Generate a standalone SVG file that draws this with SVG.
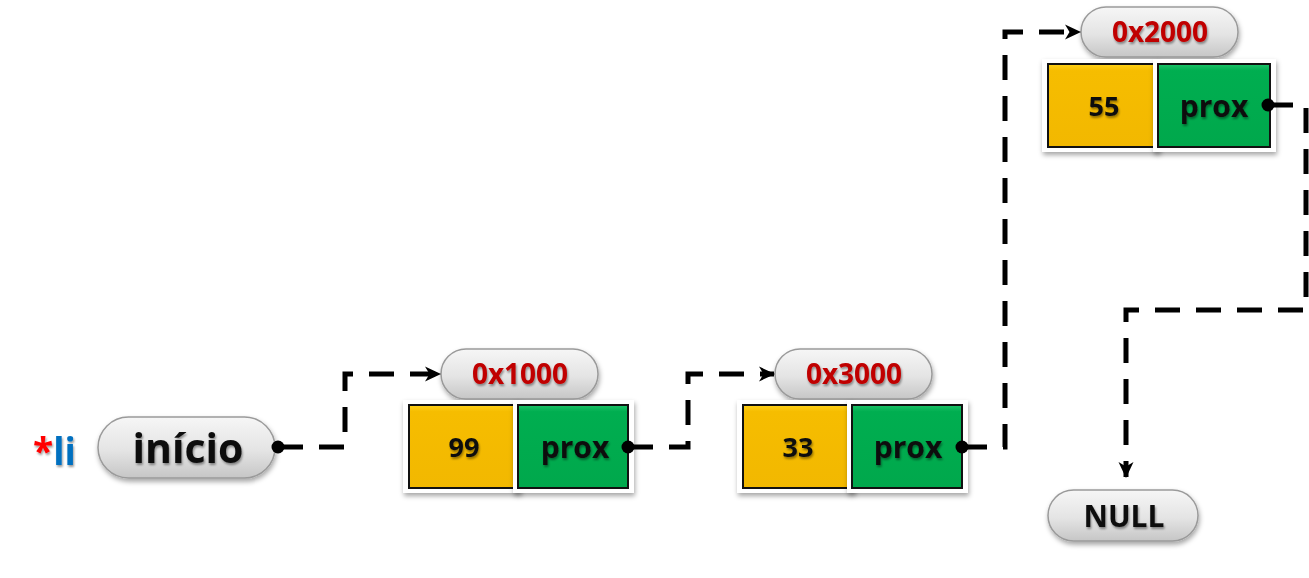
<svg xmlns="http://www.w3.org/2000/svg" width="1309" height="578" viewBox="0 0 1309 578">
<defs>
<linearGradient id="pillG" x1="0" y1="0" x2="0" y2="1">
<stop offset="0" stop-color="#f6f6f6"/><stop offset="0.55" stop-color="#e4e4e4"/><stop offset="1" stop-color="#c6c6c6"/>
</linearGradient>
<linearGradient id="yelG" x1="0" y1="0" x2="0" y2="1">
<stop offset="0" stop-color="#ffd21a"/><stop offset="0.08" stop-color="#f6bd00"/><stop offset="1" stop-color="#f2b800"/>
</linearGradient>
<linearGradient id="grnG" x1="0" y1="0" x2="0" y2="1">
<stop offset="0" stop-color="#1ec46a"/><stop offset="0.08" stop-color="#00ae50"/><stop offset="1" stop-color="#00a84c"/>
</linearGradient>
<filter id="sh" x="-20%" y="-20%" width="140%" height="150%">
<feDropShadow dx="1" dy="3" stdDeviation="2.5" flood-color="#000" flood-opacity="0.35"/>
</filter>
<filter id="tsh" x="-20%" y="-20%" width="140%" height="150%">
<feDropShadow dx="1" dy="2" stdDeviation="1.2" flood-color="#000" flood-opacity="0.4"/>
</filter>
<marker id="arr" markerUnits="userSpaceOnUse" markerWidth="18" markerHeight="18" viewBox="0 0 18 18" refX="16" refY="9" orient="auto">
<path d="M1,1.5 L17,9 L1,16.5 L5.5,9 Z" fill="#000"/>
</marker>
</defs>
<style>
.pill{fill:url(#pillG);stroke:#9a9a9a;stroke-width:1.5;filter:url(#sh)}
.frame{fill:#fff;filter:url(#sh)}
.yel{fill:url(#yelG);stroke:#111;stroke-width:2}
.grn{fill:url(#grnG);stroke:#111;stroke-width:2}
.addr{font-family:"Open Sans","DejaVu Sans",sans-serif;font-weight:bold;font-size:28px;fill:#c00000;text-anchor:middle;filter:url(#tsh)}
.val{font-family:"Open Sans","DejaVu Sans",sans-serif;font-weight:bold;font-size:27px;fill:#111;text-anchor:middle;filter:url(#tsh)}
.prox{font-family:"Open Sans","DejaVu Sans",sans-serif;font-weight:bold;font-size:30px;fill:#111;text-anchor:middle;filter:url(#tsh)}
.big{font-family:"Open Sans","DejaVu Sans",sans-serif;font-weight:bold;fill:#111;text-anchor:middle;filter:url(#tsh)}
.conn{fill:none;stroke:#000;stroke-width:5;stroke-dasharray:25 16}
</style>

<g id="li-label">
<text x="33" y="465" font-family="Open Sans, DejaVu Sans, sans-serif" font-weight="bold" font-size="37" filter="url(#tsh)"><tspan fill="#ff0000">*</tspan><tspan fill="#0070c0">li</tspan></text>
</g>

<g id="inicio">
<rect class="pill" x="98" y="417" width="177" height="61" rx="30.5"/>
<text class="big" x="188" y="463" font-size="41">início</text>
</g>

<g id="node1">
<rect class="pill" x="441" y="349" width="157" height="50" rx="25"/>
<text class="addr" x="520" y="384">0x1000</text>
<rect class="frame" x="403" y="400" width="118" height="93"/>
<rect class="yel" x="409" y="405" width="106" height="83"/>
<rect class="frame" x="513" y="400" width="121" height="93"/>
<rect class="grn" x="518" y="405" width="110" height="83"/>
<text class="val" x="464" y="457">99</text>
<text class="prox" x="575" y="458">prox</text>
</g>

<g id="node2">
<rect class="pill" x="775" y="349" width="157" height="50" rx="25"/>
<text class="addr" x="854" y="384">0x3000</text>
<rect class="frame" x="737" y="400" width="118" height="93"/>
<rect class="yel" x="743" y="405" width="106" height="83"/>
<rect class="frame" x="847" y="400" width="121" height="93"/>
<rect class="grn" x="852" y="405" width="110" height="83"/>
<text class="val" x="798" y="457">33</text>
<text class="prox" x="908" y="458">prox</text>
</g>

<g id="node3">
<rect class="pill" x="1081" y="7" width="157" height="50" rx="25"/>
<text class="addr" x="1160" y="42">0x2000</text>
<rect class="frame" x="1042" y="59" width="118" height="93"/>
<rect class="yel" x="1048" y="64" width="106" height="83"/>
<rect class="frame" x="1153" y="59" width="123" height="93"/>
<rect class="grn" x="1158" y="64" width="112" height="83"/>
<text class="val" x="1104" y="116">55</text>
<text class="prox" x="1214" y="117">prox</text>
</g>

<g id="null">
<rect class="pill" x="1048" y="490" width="150" height="51" rx="25.5"/>
<text class="big" x="1124" y="527" font-size="30">NULL</text>
</g>

<g id="connectors">
<circle cx="278" cy="447" r="6.5" fill="#000"/>
<path class="conn" d="M278 447 H345 V374 H440" marker-end="url(#arr)"/>
<circle cx="628" cy="447" r="6.5" fill="#000"/>
<path class="conn" d="M628 447 H688 V374 H774" marker-end="url(#arr)"/>
<circle cx="962" cy="447" r="6.5" fill="#000"/>
<path class="conn" d="M962 447 H1005 V32 H1080" marker-end="url(#arr)"/>
<circle cx="1268" cy="105" r="6.5" fill="#000"/>
<path class="conn" d="M1268 105 H1306 V310 H1126 V477" marker-end="url(#arr)"/>
</g>
</svg>
